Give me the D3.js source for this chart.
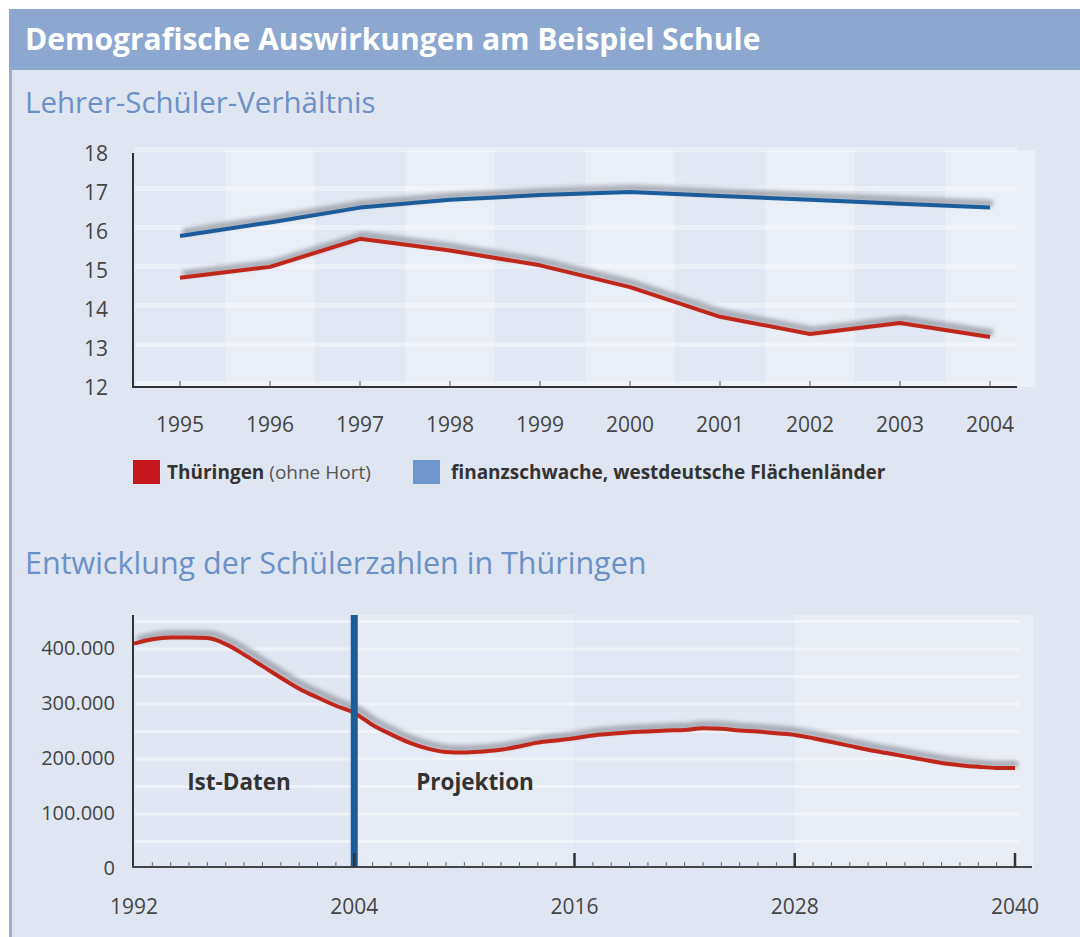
<!DOCTYPE html>
<html>
<head>
<meta charset="utf-8">
<script src="https://cdn.jsdelivr.net/npm/d3@7"></script>
<style>
  body { margin: 0; background: #fff; font-family: "Open Sans", "Noto Sans", sans-serif; }
  svg { display: block; }
</style>
</head>
<body>
<div id="chart"></div>
<script>
// Data: teacher-student ratio
const ratioYears = [1995, 1996, 1997, 1998, 1999, 2000, 2001, 2002, 2003, 2004];
const thueringen = [14.8, 15.08, 15.8, 15.5, 15.12, 14.56, 13.8, 13.36, 13.64, 13.28];
const westLaender = [15.87, 16.22, 16.6, 16.8, 16.92, 17.0, 16.9, 16.8, 16.7, 16.6];
const ratioTicks = [12, 13, 14, 15, 16, 17, 18];

// Data: pupils in Thüringen (actual to 2004, projection afterwards)
const pupilYears = [1992, 1993, 1994, 1995, 1996, 1997, 1998, 1999, 2000, 2001, 2002, 2003, 2004,
  2005, 2006, 2007, 2008, 2009, 2010, 2011, 2012, 2013, 2014, 2015, 2016, 2017, 2018, 2019, 2020,
  2021, 2022, 2023, 2024, 2025, 2026, 2027, 2028, 2029, 2030, 2031, 2032, 2033, 2034, 2035, 2036,
  2037, 2038, 2039, 2040];
const pupils = [408000, 416000, 419000, 419000, 418000, 407000, 388000, 367000, 346000, 326000, 310000, 295000, 282000,
  260000, 243000, 228000, 217000, 211000, 210000, 212000, 215000, 221000, 228000, 232000, 236000, 241000, 244000, 247000, 248000,
  250000, 251000, 254000, 253000, 250000, 248000, 245000, 242000, 236000, 229000, 222000, 215000, 209000, 203000, 197000, 191000,
  187000, 184000, 182000, 182000];
const pupilTicks = [0, 100000, 200000, 300000, 400000];
const pupilYearTicks = [1992, 2004, 2016, 2028, 2040];
const splitYear = 2004;

const W = 1080, H = 937;
const red = "#c0261c", blue = "#1d5c9b";

const svg = d3.select("#chart").append("svg")
    .attr("width", W)
    .attr("height", H);

const defs = svg.append("defs");
defs.append("filter").attr("id", "blur")
    .attr("x", "-10%").attr("y", "-50%").attr("width", "120%").attr("height", "200%")
  .append("feGaussianBlur").attr("stdDeviation", 2);

// Panel and header
svg.append("rect").attr("x", 9).attr("y", 9).attr("width", W - 9).attr("height", H - 9).attr("fill", "#dfe6f2");
svg.append("rect").attr("x", 9).attr("y", 70).attr("width", 3).attr("height", H - 70).attr("fill", "#97afd6");
svg.append("rect").attr("x", 9).attr("y", 9).attr("width", W - 9).attr("height", 61).attr("fill", "#8ca8d0");
svg.append("text").attr("x", 25).attr("y", 50)
    .attr("fill", "#fff").attr("font-size", 30).attr("font-weight", 700)
    .text("Demografische Auswirkungen am Beispiel Schule");

svg.append("text").attr("x", 25).attr("y", 113)
    .attr("fill", "#6b90c6").attr("font-size", 29.5)
    .text("Lehrer-Schüler-Verhältnis");
svg.append("text").attr("x", 25).attr("y", 574)
    .attr("fill", "#6b90c6").attr("font-size", 30.5)
    .text("Entwicklung der Schülerzahlen in Thüringen");

// ---------- Chart 1 ----------
const x1 = d3.scalePoint().domain(ratioYears).range([180, 990]);
const y1 = d3.scaleLinear().domain([12, 18]).range([387, 153]);
const g1 = svg.append("g");

// alternating year bands
ratioYears.forEach((yr, i) => {
  g1.append("rect")
      .attr("x", x1(yr) - 45).attr("y", 150)
      .attr("width", 90).attr("height", 237)
      .attr("fill", i % 2 ? "#eaeff7" : "#e2e8f3");
});
// light horizontal stripes
ratioTicks.forEach(t => {
  g1.append("rect").attr("x", 135).attr("y", y1(t) - 6)
      .attr("width", 1017 - 135).attr("height", 5)
      .attr("fill", "#fff").attr("opacity", 0.35);
});

const line1 = d3.line().x((d, i) => x1(ratioYears[i])).y(d => y1(d));
[[westLaender, blue], [thueringen, red]].forEach(([vals, col]) => {
  g1.append("path").datum(vals)
      .attr("d", line1)
      .attr("transform", "translate(3,-4)")
      .attr("fill", "none").attr("stroke", "#8a8f99").attr("stroke-width", 7)
      .attr("stroke-opacity", 0.7).attr("filter", "url(#blur)");
  g1.append("path").datum(vals)
      .attr("d", line1)
      .attr("fill", "none").attr("stroke", col).attr("stroke-width", 4)
      .attr("stroke-linejoin", "round");
});

// axes
g1.append("line").attr("x1", 133).attr("x2", 133).attr("y1", 153).attr("y2", 388)
    .attr("stroke", "#333").attr("stroke-width", 2);
g1.append("line").attr("x1", 132).attr("x2", 1017).attr("y1", 387).attr("y2", 387)
    .attr("stroke", "#333").attr("stroke-width", 2);
g1.selectAll(".xt").data(ratioYears).join("line")
    .attr("x1", d => x1(d)).attr("x2", d => x1(d))
    .attr("y1", 381).attr("y2", 387)
    .attr("stroke", "#555").attr("stroke-width", 1);
g1.selectAll(".xl").data(ratioYears).join("text")
    .attr("x", d => x1(d)).attr("y", 432)
    .attr("text-anchor", "middle").attr("font-size", 21).attr("fill", "#444")
    .text(d => d);
g1.selectAll(".yl").data(ratioTicks).join("text")
    .attr("x", 108).attr("y", d => y1(d) + 7.5)
    .attr("text-anchor", "end").attr("font-size", 21).attr("fill", "#444")
    .text(d => d);

// legend
const lg = svg.append("g");
lg.append("rect").attr("x", 133).attr("y", 460).attr("width", 27).attr("height", 24).attr("fill", "#c4161c");
const lt1 = lg.append("text").attr("x", 167).attr("y", 479).attr("font-size", 19).attr("fill", "#333");
lt1.append("tspan").attr("font-weight", 700).text("Thüringen ");
lt1.append("tspan").attr("fill", "#555").text("(ohne Hort)");
lg.append("rect").attr("x", 413).attr("y", 460).attr("width", 27).attr("height", 24).attr("fill", "#6f97cc");
lg.append("text").attr("x", 451).attr("y", 479).attr("font-size", 19).attr("font-weight", 700).attr("fill", "#333")
    .text("finanzschwache, westdeutsche Flächenländer");

// ---------- Chart 2 ----------
const x2 = d3.scaleLinear().domain([1992, 2040]).range([134, 1015]);
const y2 = d3.scaleLinear().domain([0, 400000]).range([868, 648]);
const g2 = svg.append("g");

// vertical bands
[[1992, 2004, "#e1e7f2"], [2004, 2016, "#e6ecf5"], [2016, 2028, "#e2e8f3"], [2028, 2041, "#e8edf6"]].forEach(([a, b, c]) => {
  g2.append("rect").attr("x", x2(a)).attr("y", 615)
      .attr("width", x2(b) - x2(a)).attr("height", 253).attr("fill", c);
});
// horizontal stripes
d3.range(0, 425000, 50000).forEach(v => {
  g2.append("rect").attr("x", 135).attr("y", y2(v) - 28)
      .attr("width", 1020 - 135).attr("height", 3)
      .attr("fill", "#fff").attr("opacity", 0.45);
});

const line2 = d3.line().x((d, i) => x2(pupilYears[i])).y(d => y2(d)).curve(d3.curveMonotoneX);
g2.append("path").datum(pupils)
    .attr("d", line2)
    .attr("transform", "translate(3,-4)")
    .attr("fill", "none").attr("stroke", "#8a8f99").attr("stroke-width", 7)
    .attr("stroke-opacity", 0.7).attr("filter", "url(#blur)");
g2.append("path").datum(pupils)
    .attr("d", line2)
    .attr("fill", "none").attr("stroke", red).attr("stroke-width", 4);

// split marker
g2.append("rect").attr("x", x2(splitYear) - 3.5).attr("y", 615)
    .attr("width", 7).attr("height", 253).attr("fill", blue);

g2.append("text").attr("x", 239).attr("y", 790)
    .attr("text-anchor", "middle").attr("font-size", 22.5).attr("font-weight", 700).attr("fill", "#333")
    .text("Ist-Daten");
g2.append("text").attr("x", 475).attr("y", 790)
    .attr("text-anchor", "middle").attr("font-size", 22.5).attr("font-weight", 700).attr("fill", "#333")
    .text("Projektion");

// axes
g2.append("line").attr("x1", 133).attr("x2", 133).attr("y1", 615).attr("y2", 868)
    .attr("stroke", "#333").attr("stroke-width", 2);
g2.append("line").attr("x1", 132).attr("x2", 1032).attr("y1", 867).attr("y2", 867)
    .attr("stroke", "#444").attr("stroke-width", 2);
g2.selectAll(".mt").data(d3.range(1993, 2040)).join("line")
    .attr("x1", d => x2(d)).attr("x2", d => x2(d))
    .attr("y1", 862).attr("y2", 867)
    .attr("stroke", "#666").attr("stroke-width", 1);
g2.selectAll(".Mt").data(pupilYearTicks.slice(1)).join("line")
    .attr("x1", d => x2(d)).attr("x2", d => x2(d))
    .attr("y1", 853).attr("y2", 867)
    .attr("stroke", "#333").attr("stroke-width", 2.5);

const fmt = d => d === 0 ? "0" : d3.format(",")(d).replace(/,/g, ".");
g2.selectAll(".yl").data(pupilTicks).join("text")
    .attr("x", 115).attr("y", d => y2(d) + 7)
    .attr("text-anchor", "end").attr("font-size", 20).attr("fill", "#444")
    .text(fmt);
g2.selectAll(".xl").data(pupilYearTicks).join("text")
    .attr("x", d => x2(d)).attr("y", 914)
    .attr("text-anchor", "middle").attr("font-size", 21).attr("fill", "#444")
    .text(d => d);
</script>
</body>
</html>
